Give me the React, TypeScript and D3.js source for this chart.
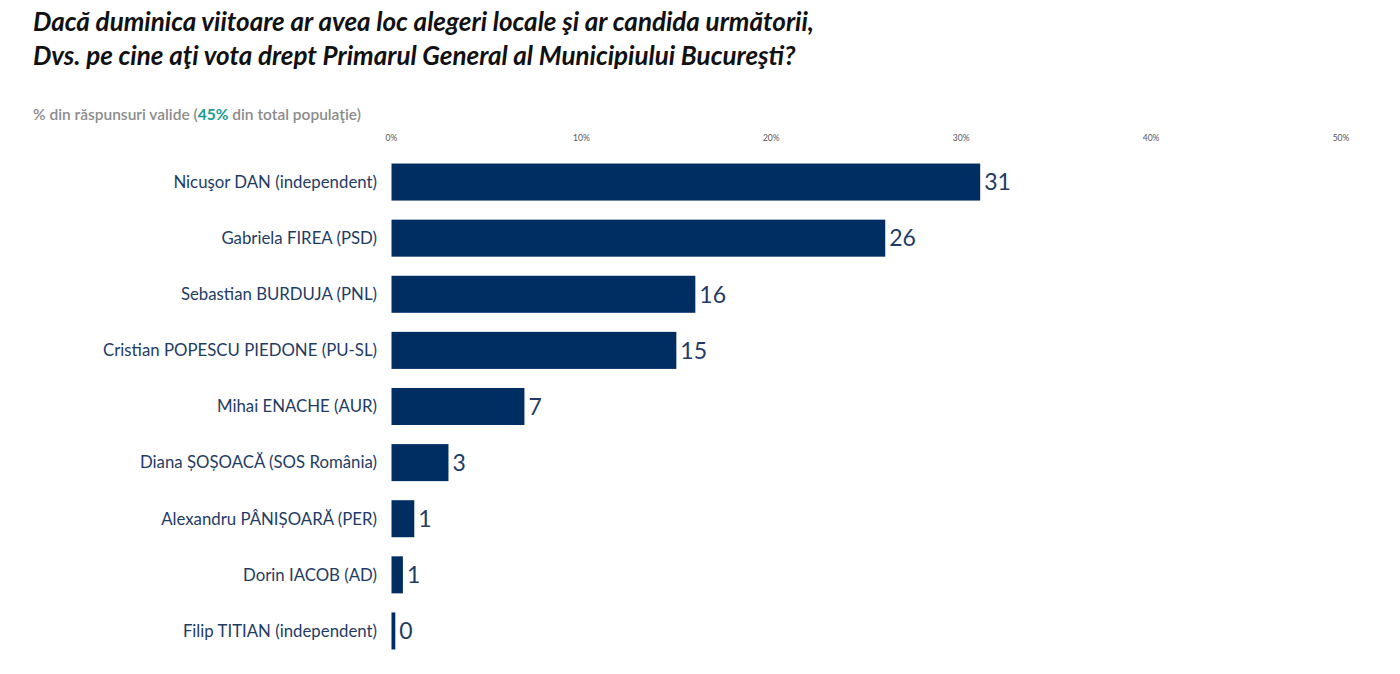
import * as d3 from 'd3';

// date sondaj - Primarul General al Bucureștiului
const candidates = [
  'Nicuşor DAN (independent)',
  'Gabriela FIREA (PSD)',
  'Sebastian BURDUJA (PNL)',
  'Cristian POPESCU PIEDONE (PU-SL)',
  'Mihai ENACHE (AUR)',
  'Diana ȘOȘOACĂ (SOS România)',
  'Alexandru PÂNIȘOARĂ (PER)',
  'Dorin IACOB (AD)',
  'Filip TITIAN (independent)',
];
const shares = [31, 26, 16, 15, 7, 3, 1.2, 0.6, 0.2];
const shownValues = ['31', '26', '16', '15', '7', '3', '1', '1', '0'];
const axisTicks = [0, 10, 20, 30, 40, 50];

const titleLines = [
  'Dacă duminica viitoare ar avea loc alegeri locale şi ar candida următorii,',
  'Dvs. pe cine aţi vota drept Primarul General al Municipiului Bucureşti?',
];

const W = 1400;
const H = 674;
const navy = '#002e63';
const textNavy = '#1f3c64';
const font = 'Lato, "Open Sans", sans-serif';

const App = () => {
  const x = d3.scaleLinear().domain([0, 50]).range([391.5, 1341]);
  const y = d3
    .scaleBand<string>()
    .domain(candidates)
    .range([154, 659])
    .paddingInner(0.34)
    .paddingOuter(0.17);

  return (
    <svg width={W} height={H} style={{ display: 'block', background: '#fff', margin: -8 }}>
      {/* titlu */}
      {titleLines.map((t, i) => (
        <text
          key={i}
          x={33}
          y={31 + i * 34}
          fontFamily={font}
          fontStyle="italic"
          fontWeight={700}
          fontSize={26}
          fill="#111"
        >
          {t}
        </text>
      ))}
      <text x={33} y={120} fontFamily={font} fontWeight={600} fontSize={15.5} fill="#8c8c8c">
        % din răspunsuri valide (
        <tspan fill="#1a9a93" fontWeight={700}>45%</tspan>
        {' din total populaţie)'}
      </text>

      {/* axa de sus */}
      {axisTicks.map((t) => (
        <text
          key={t}
          x={x(t)}
          y={141}
          textAnchor="middle"
          fontFamily={font}
          fontSize={8.5}
          fill="#555"
        >
          {t}%
        </text>
      ))}

      {/* bare */}
      {candidates.map((c, i) => {
        const yy = y(c) as number;
        const cy = yy + y.bandwidth() / 2;
        return (
          <g key={c}>
            <text
              x={377}
              y={cy}
              dy="0.35em"
              textAnchor="end"
              fontFamily={font}
              fontSize={16.8}
              fill={textNavy}
            >
              {c}
            </text>
            <rect x={x(0)} y={yy} width={x(shares[i]) - x(0)} height={y.bandwidth()} fill={navy} />
            <text
              x={x(shares[i]) + 4}
              y={cy}
              dy="0.36em"
              fontFamily={font}
              fontSize={23}
              fill={textNavy}
            >
              {shownValues[i]}
            </text>
          </g>
        );
      })}
    </svg>
  );
};

export default App;
